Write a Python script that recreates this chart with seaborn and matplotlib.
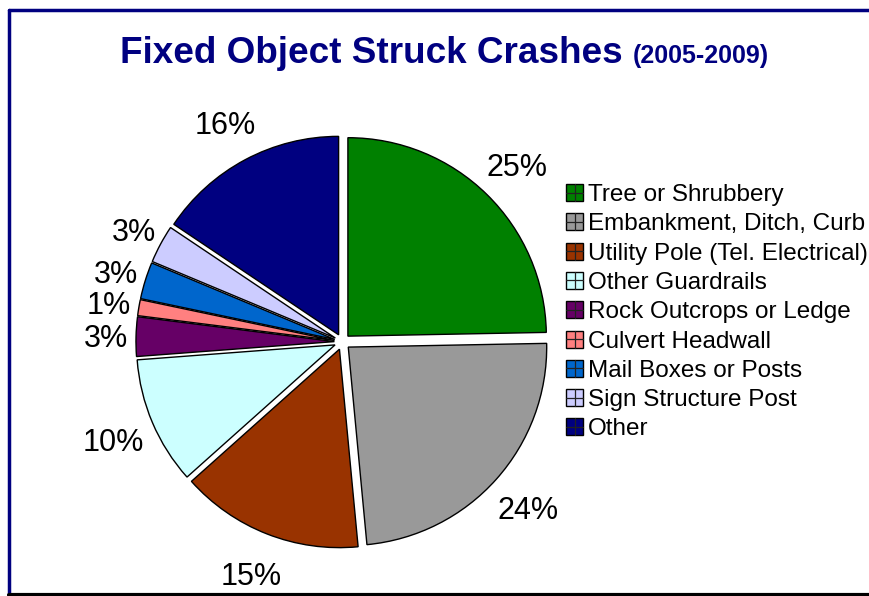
import matplotlib.pyplot as plt
import matplotlib.patches as mpatches
from matplotlib.lines import Line2D
from matplotlib.legend_handler import HandlerPatch
import seaborn as sns

# crash share (%) by fixed object type, clockwise from 12 o'clock
categories = ['Tree or Shrubbery', 'Embankment, Ditch, Curb',
              'Utility Pole (Tel. Electrical)', 'Other Guardrails',
              'Rock Outcrops or Ledge', 'Culvert Headwall',
              'Mail Boxes or Posts', 'Sign Structure Post', 'Other']
shares = [24.7, 23.8, 14.9, 10.4, 3.2, 1.3, 3.0, 3.1, 15.6]
colors = ['#008000', '#999999', '#993300', '#CCFFFF', '#660066',
          '#FF8080', '#0066CC', '#CCCCFF', '#000080']


class CrossSquare(HandlerPatch):
    # excel style legend key: filled square split by a cross
    def create_artists(self, legend, orig_handle, xdescent, ydescent,
                       width, height, fontsize, trans):
        x0, y0 = -xdescent, -ydescent
        rect = mpatches.Rectangle((x0, y0), width, height,
                                  facecolor=orig_handle.get_facecolor(),
                                  edgecolor='black', linewidth=1.0,
                                  transform=trans)
        hline = Line2D([x0, x0 + width], [y0 + height / 2] * 2,
                       color='#222222', linewidth=0.9, transform=trans)
        vline = Line2D([x0 + width / 2] * 2, [y0, y0 + height],
                       color='#222222', linewidth=0.9, transform=trans)
        return [rect, hline, vline]


sns.set_theme(style='white')
plt.rcParams['font.family'] = ['Liberation Sans', 'DejaVu Sans']

fig = plt.figure(figsize=(8.7, 5.96), dpi=100)
ax = fig.add_axes([0.099, -0.003, 0.589, 0.859])

wedges, texts, autotexts = ax.pie(
    shares, colors=colors, startangle=90, counterclock=False,
    explode=[0.04] * len(shares), autopct='%.0f%%', pctdistance=1.215,
    wedgeprops=dict(edgecolor='black', linewidth=1.0),
    textprops=dict(fontsize=22, color='black'))
for t, s in zip(autotexts, shares):
    t.set_va('center_baseline')
    # the thin slices have their labels pulled in a little
    if s < 5:
        x, y = t.get_position()
        t.set_position((x * 0.95, y * 0.95))
ax.set_xlim(-1.29, 1.29)
ax.set_ylim(-1.29, 1.29)
ax.set_aspect('equal')
ax.axis('off')

handles = [mpatches.Patch(facecolor=c) for c in colors]
fig.legend(handles, categories, loc='upper left',
           bbox_to_anchor=(566 / 870, 1 - 184 / 596), frameon=False,
           fontsize=17.5, labelcolor='black', borderpad=0, borderaxespad=0,
           labelspacing=0.3, handlelength=0.7, handleheight=0.7,
           handletextpad=0.22, handler_map={mpatches.Patch: CrossSquare()})

fig.text(120 / 870, 1 - 63 / 596, 'Fixed Object Struck Crashes',
         fontsize=26.6, fontweight='bold', color='#000080', va='baseline')
fig.text(633 / 870, 1 - 63 / 596, '(2005-2009)',
         fontsize=18, fontweight='bold', color='#000080', va='baseline')

# frame lines of the original slide
fig.add_artist(Line2D([9.5 / 870, 9.5 / 870], [0, 1 - 9.5 / 596],
                      color='#000080', linewidth=2.5))
fig.add_artist(Line2D([9.5 / 870, 1], [1 - 9.5 / 596, 1 - 9.5 / 596],
                      color='#000080', linewidth=2.5))
fig.add_artist(Line2D([9.5 / 870, 1], [1.5 / 596, 1.5 / 596],
                      color='black', linewidth=3))

fig.savefig('out.png', dpi=100)
